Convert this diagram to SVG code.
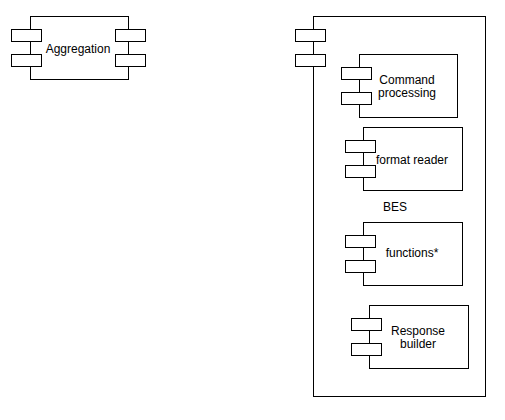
<svg xmlns="http://www.w3.org/2000/svg" width="505" height="420" viewBox="0 0 505 420">
<style>
.b{fill:#fff;stroke:#000;stroke-width:1}
.t{font-family:"Liberation Sans",Arial,sans-serif;font-size:12px;fill:#000;text-anchor:middle}
</style>
<rect width="505" height="420" fill="#fff"/>
<g id="aggregation">
<rect class="b" x="30.5" y="16.5" width="98" height="63"/>
<rect class="b" x="11.5" y="29.5" width="30" height="12"/>
<rect class="b" x="11.5" y="54.5" width="30" height="12"/>
<rect class="b" x="115.5" y="29.5" width="30" height="12"/>
<rect class="b" x="115.5" y="54.5" width="30" height="12"/>
<text class="t" x="78" y="52.5">Aggregation</text>
</g>
<g id="bes">
<rect class="b" x="313.5" y="16.5" width="172" height="380"/>
<rect class="b" x="295.5" y="29.5" width="30" height="12"/>
<rect class="b" x="295.5" y="54.5" width="30" height="12"/>
<text class="t" x="395" y="210.5">BES</text>
</g>
<g id="command-processing">
<rect class="b" x="359.5" y="54.5" width="98" height="63"/>
<rect class="b" x="341.5" y="67.5" width="30" height="12"/>
<rect class="b" x="341.5" y="92.5" width="30" height="12"/>
<text class="t" x="407" y="83.5">Command</text>
<text class="t" x="407" y="97">processing</text>
</g>
<g id="format-reader">
<rect class="b" x="363.5" y="127.5" width="99" height="63"/>
<rect class="b" x="345.5" y="140.5" width="30" height="12"/>
<rect class="b" x="345.5" y="165.5" width="30" height="12"/>
<text class="t" x="412" y="163.5">format reader</text>
</g>
<g id="functions">
<rect class="b" x="363.5" y="222.5" width="99" height="63"/>
<rect class="b" x="345.5" y="235.5" width="30" height="12"/>
<rect class="b" x="345.5" y="260.5" width="30" height="12"/>
<text class="t" x="412" y="257">functions*</text>
</g>
<g id="response-builder">
<rect class="b" x="369.5" y="305.5" width="99" height="63"/>
<rect class="b" x="351.5" y="318.5" width="30" height="12"/>
<rect class="b" x="351.5" y="343.5" width="30" height="12"/>
<text class="t" x="418" y="334.5">Response</text>
<text class="t" x="418" y="347.5">builder</text>
</g>
<g id="connectors"></g>
</svg>
